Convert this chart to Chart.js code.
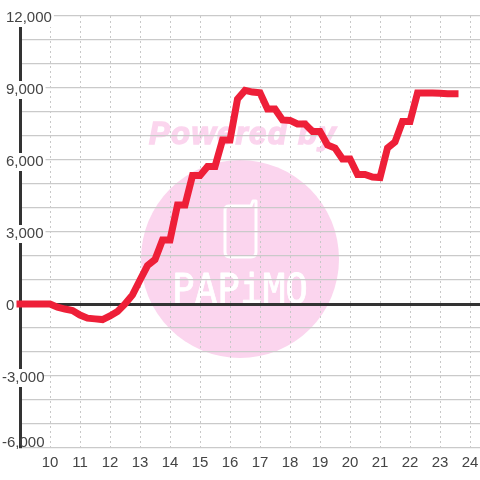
<!DOCTYPE html>
<html>
<head>
<meta charset="utf-8">
<style>
html, body { margin: 0; padding: 0; background: #fff; }
canvas { display: block; }
</style>
<script src="https://cdn.jsdelivr.net/npm/chart.js@4"></script>
</head>
<body>
<canvas id="chart" width="480" height="480"></canvas>
<script>
// hours of day, one reading every 15 minutes from 10:00
var hours = [9, 10, 10.25, 10.5, 10.75, 11, 11.25, 11.5, 11.75, 12, 12.25, 12.5, 12.75,
  13, 13.25, 13.5, 13.75, 14, 14.25, 14.5, 14.75, 15, 15.25, 15.5, 15.75, 16, 16.25, 16.5, 16.75,
  17, 17.25, 17.5, 17.75, 18, 18.25, 18.5, 18.75, 19, 19.25, 19.5, 19.75, 20, 20.25, 20.5, 20.75,
  21, 21.25, 21.5, 21.75, 22, 22.25, 22.5, 22.75, 23, 23.25, 23.5];
var values = [0, 0, -130, -210, -270, -460, -590, -620, -650, -500, -310, 0, 380,
  1000, 1600, 1850, 2670, 2670, 4120, 4120, 5350, 5350, 5730, 5730, 6830, 6830, 8540, 8900, 8830,
  8800, 8125, 8125, 7670, 7650, 7500, 7500, 7190, 7190, 6630, 6500, 6040, 6040, 5400, 5400, 5290,
  5270, 6500, 6750, 7600, 7600, 8790, 8790, 8790, 8780, 8760, 8760];
var yLabelStep = 3000;

var pink = '#fbd5ee';

// background logo, sits under the grid
var logo = {
  id: 'logo',
  beforeDraw: function (chart) {
    var c = chart.ctx;
    c.save();
    c.fillStyle = '#fff';
    c.fillRect(0, 0, 480, 480);
    c.fillStyle = pink;
    c.beginPath();
    c.arc(240, 259, 99, 0, Math.PI * 2);
    c.fill();

    c.font = 'italic bold 31px "Liberation Sans"';
    c.textAlign = 'left';
    c.textBaseline = 'alphabetic';
    c.letterSpacing = '1.4px';
    c.strokeStyle = pink;
    c.lineWidth = 1.5;
    c.fillText('Powered by', 149, 144);
    c.strokeText('Powered by', 149, 144);

    c.strokeStyle = '#fff';
    c.lineWidth = 3;
    c.lineJoin = 'round';
    c.lineCap = 'round';
    c.beginPath();
    c.moveTo(251, 206);
    c.lineTo(229, 206);
    c.quadraticCurveTo(225, 206, 225, 210);
    c.lineTo(225, 252);
    c.quadraticCurveTo(225, 257, 230, 257);
    c.lineTo(251, 257);
    c.quadraticCurveTo(256, 257, 256, 252);
    c.lineTo(256, 201);
    c.lineTo(253, 201);
    c.lineTo(251, 206);
    c.stroke();

    c.fillStyle = '#fff';
    c.font = '41px "DejaVu Sans Mono"';
    c.letterSpacing = '0px';
    c.lineWidth = 0.8;
    c.fillText('PAPiMO', 172, 303, 136);
    c.strokeText('PAPiMO', 172, 303, 136);
    c.restore();
  }
};

// negative labels start further left, the bottom one is kept inside the plot
var shiftLabels = {
  id: 'shiftLabels',
  afterLayout: function (chart) {
    var items = chart.scales.y.getLabelItems();
    items.forEach(function (item) {
      var o = item.options;
      var dx = item.label.charAt(0) === '-' ? -4 : 0;
      var dy = item.label === '-6,000' ? -5.5 : 2;
      o.translation = [o.translation[0] + dx, o.translation[1] + dy];
      if (o.backdrop) {
        o.backdrop.left += dx;
        if (item.label === '-6,000') {
          o.backdrop.top = 436;
          o.backdrop.height = 13.5;
        }
      }
    });
  }
};

var points = hours.map(function (h, i) { return { x: h, y: values[i] }; });

new Chart(document.getElementById('chart'), {
  type: 'line',
  data: {
    datasets: [{
      data: points,
      borderColor: '#ee1f38',
      borderWidth: 7,
      borderJoinStyle: 'miter',
      borderCapStyle: 'square',
      pointRadius: 0,
      tension: 0,
      clip: false
    }]
  },
  plugins: [logo, shiftLabels],
  options: {
    responsive: false,
    animation: false,
    layout: { padding: { top: 16 } },
    plugins: { legend: { display: false }, tooltip: { enabled: false } },
    scales: {
      x: {
        type: 'linear',
        min: 9,
        max: 24.333,
        afterFit: function (scale) {
          scale.height = 32;
          scale.paddingLeft = 0;
          scale.paddingRight = 0;
        },
        grid: { color: '#c8c8c8', lineWidth: 1, drawTicks: false },
        border: { display: false, dash: [2, 3] },
        ticks: {
          stepSize: 1,
          includeBounds: false,
          autoSkip: false,
          maxRotation: 0,
          padding: 6,
          color: '#444',
          font: { family: '"Liberation Sans"', size: 15 },
          callback: function (v) { return v === 9 ? '' : String(v); }
        }
      },
      y: {
        min: -6000,
        max: 12000,
        afterFit: function (scale) { scale.width = 20; },
        grid: {
          drawTicks: false,
          color: function (ctx) { return ctx.tick && ctx.tick.value === 0 ? '#333' : '#cacaca'; },
          lineWidth: function (ctx) { return ctx.tick && ctx.tick.value === 0 ? 3 : 1.2; }
        },
        border: { display: true, color: '#333', width: 3 },
        ticks: {
          stepSize: 1000,
          autoSkip: false,
          mirror: true,
          padding: -14,
          color: '#444',
          font: { family: '"Liberation Sans"', size: 15 },
          showLabelBackdrop: true,
          backdropColor: function (ctx) { return ctx.tick.value % yLabelStep === 0 ? '#fff' : 'rgba(0,0,0,0)'; },
          backdropPadding: { left: 0, right: 2, top: 0, bottom: 0 },
          callback: function (v) { return v % yLabelStep === 0 ? v.toLocaleString('en-US') : ''; }
        }
      }
    }
  }
});
</script>
</body>
</html>
